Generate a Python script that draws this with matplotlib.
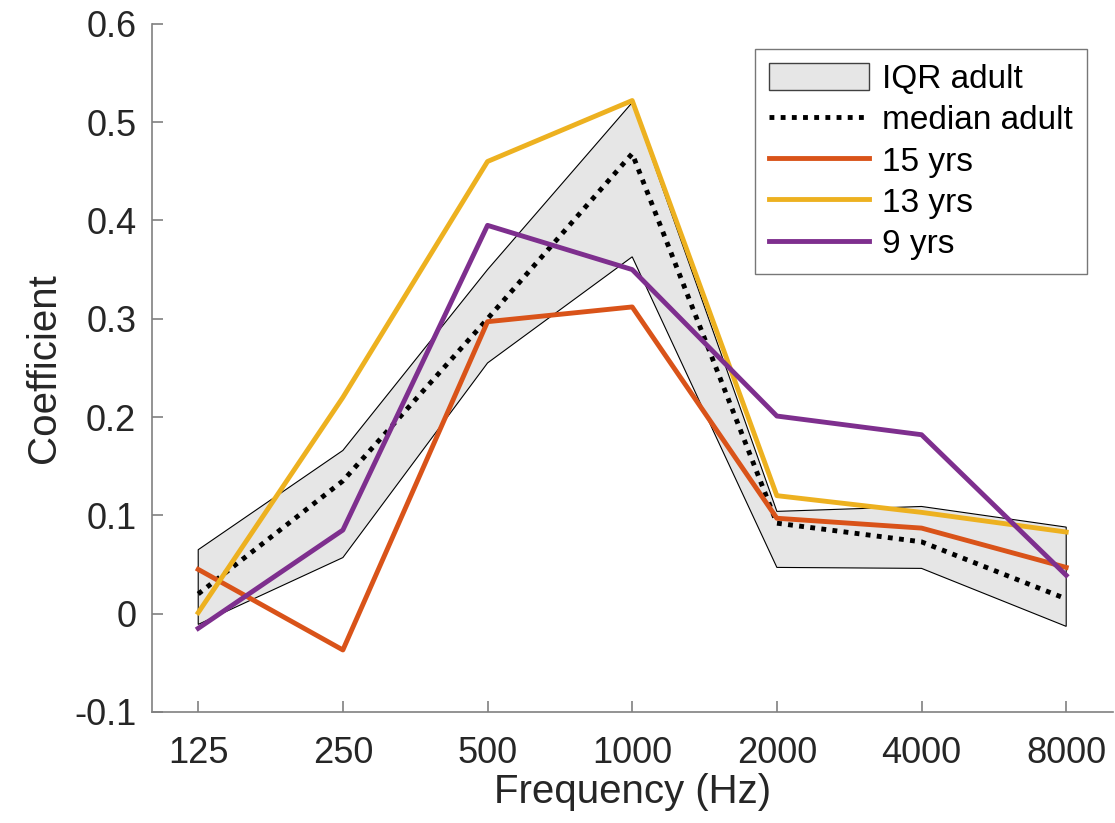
import numpy as np
import matplotlib.pyplot as plt
from matplotlib.patches import Patch
from matplotlib.lines import Line2D

plt.rcParams['font.family'] = ['Liberation Sans', 'DejaVu Sans']

#Data
freqs = [125, 250, 500, 1000, 2000, 4000, 8000]
iqr_hi = [0.065, 0.166, 0.35, 0.52, 0.104, 0.109, 0.088]
iqr_lo = [-0.011, 0.057, 0.255, 0.363, 0.047, 0.046, -0.013]
median_adult = [0.02, 0.135, 0.30, 0.468, 0.092, 0.073, 0.015]
yrs15 = [0.045, -0.037, 0.297, 0.312, 0.097, 0.087, 0.047]
yrs13 = [0.001, 0.22, 0.46, 0.522, 0.12, 0.103, 0.083]
yrs9 = [-0.015, 0.085, 0.395, 0.35, 0.201, 0.182, 0.039]

c15 = '#D95319'
c13 = '#EDB120'
c9 = '#7E2F8E'
dots = (0, (1, 1.3))

#Plot
fig = plt.figure(figsize=(11.15, 8.23), dpi=100)
ax = fig.add_axes([0.136, 0.135, 0.862, 0.836])

xs = np.array(freqs, dtype=float)
poly_x = np.concatenate([xs, xs[::-1]])
poly_y = np.concatenate([iqr_hi, iqr_lo[::-1]])
ax.fill(poly_x, poly_y, facecolor='#e6e6e6', edgecolor='black', linewidth=0.8, zorder=1)

ax.plot(freqs, median_adult, color='black', linewidth=3.5, linestyle=dots, zorder=3)
ax.plot(freqs, yrs15, color=c15, linewidth=3.5, zorder=4)
ax.plot(freqs, yrs13, color=c13, linewidth=3.5, zorder=4)
ax.plot(freqs, yrs9, color=c9, linewidth=3.5, zorder=4)

ax.set_xscale('log')
ax.set_xlim(100, 10000)
ax.set_ylim(-0.1, 0.6)
ax.set_xticks(freqs)
ax.set_xticklabels([str(f) for f in freqs])
ax.minorticks_off()
ax.set_yticks([-0.1, 0, 0.1, 0.2, 0.3, 0.4, 0.5, 0.6])
ax.set_yticklabels(['-0.1', '0', '0.1', '0.2', '0.3', '0.4', '0.5', '0.6'])

for s in ['top', 'right']:
    ax.spines[s].set_visible(False)
for s in ['left', 'bottom']:
    ax.spines[s].set_color('#808080')
    ax.spines[s].set_linewidth(1.2)
ax.tick_params(direction='in', length=8, width=1.2, color='#808080',
               labelsize=26, labelcolor='#262626')
ax.tick_params(axis='x', pad=17)
ax.tick_params(axis='y', pad=11)

ax.set_xlabel('Frequency (Hz)', fontsize=29, color='#262626', labelpad=2)
ax.set_ylabel('Coefficient', fontsize=29, color='#262626', labelpad=8)

handles = [
    Patch(facecolor='#e6e6e6', edgecolor='#404040', linewidth=1),
    Line2D([], [], color='black', linewidth=3.5, linestyle=dots),
    Line2D([], [], color=c15, linewidth=3.5),
    Line2D([], [], color=c13, linewidth=3.5),
    Line2D([], [], color=c9, linewidth=3.5),
]
labels = ['IQR adult', 'median adult', '15 yrs', '13 yrs', '9 yrs']
leg = ax.legend(handles, labels, loc='upper right', bbox_to_anchor=(0.973, 0.964),
                fontsize=24, frameon=True, fancybox=False, handlelength=3.0,
                handleheight=0.9, labelspacing=0.27, handletextpad=0.4,
                borderpad=0.42, borderaxespad=0)
leg.get_frame().set_edgecolor('#555555')
leg.get_frame().set_linewidth(1)

plt.savefig('out.png', dpi=100)
